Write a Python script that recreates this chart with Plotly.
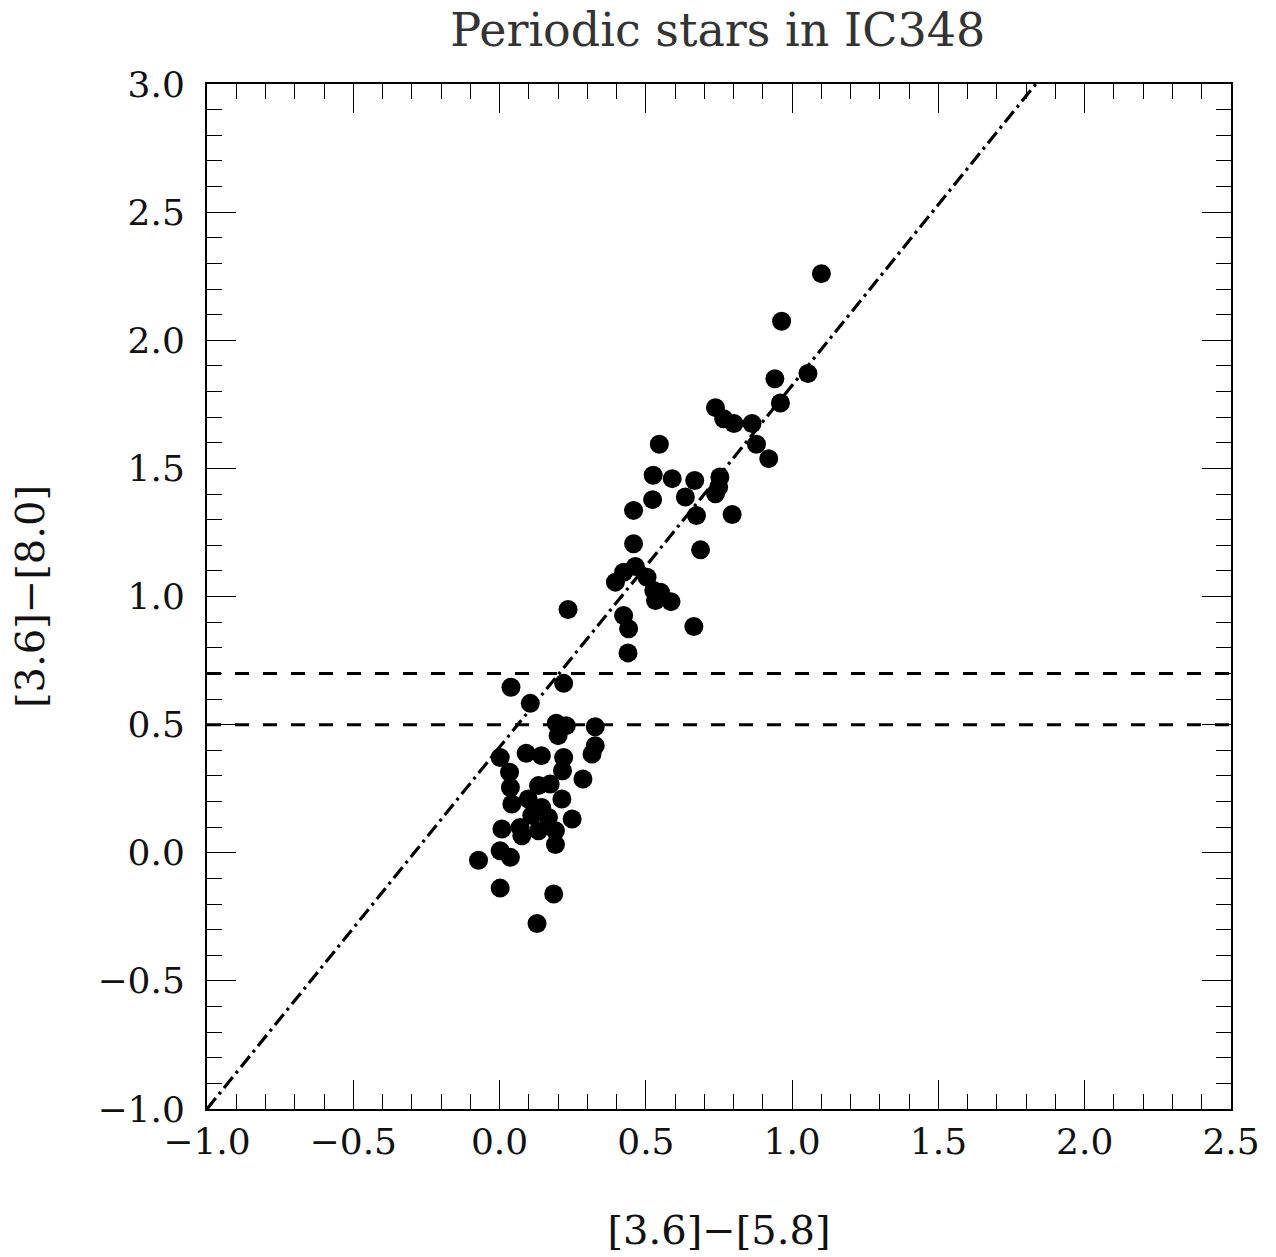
import plotly.graph_objects as go

# [3.6]-[5.8] and [3.6]-[8.0] colours of the periodic stars
color_36_58 = [
    1.100, 0.964, 1.054, 0.941, 0.960, 0.738, 0.766, 0.801, 0.863, 0.878,
    0.920, 0.546, 0.525, 0.590, 0.667, 0.753, 0.749, 0.738, 0.635, 0.523,
    0.458, 0.673, 0.795, 0.458, 0.687, 0.464, 0.424, 0.396, 0.504, 0.527,
    0.550, 0.533, 0.586, 0.424, 0.441, 0.664, 0.439, 0.234,
    0.039, 0.219, 0.105, 0.194, 0.228, 0.200, 0.327, 0.327, 0.316, 0.002,
    0.091, 0.143, 0.219, 0.215, 0.034, 0.285, 0.037, 0.133, 0.173, 0.213,
    0.042, 0.098, 0.144, 0.110, 0.167, 0.248, 0.008, 0.070, 0.076, 0.133,
    0.191, 0.191, 0.002, 0.037, -0.072, 0.002, 0.185, 0.128,
]
color_36_80 = [
    2.260, 2.074, 1.870, 1.850, 1.755, 1.737, 1.694, 1.675, 1.675, 1.594,
    1.538, 1.594, 1.473, 1.460, 1.453, 1.466, 1.427, 1.401, 1.388, 1.378,
    1.336, 1.316, 1.320, 1.206, 1.182, 1.117, 1.095, 1.056, 1.075, 1.023,
    1.017, 0.984, 0.980, 0.926, 0.874, 0.883, 0.780, 0.949,
    0.646, 0.661, 0.583, 0.505, 0.496, 0.457, 0.492, 0.418, 0.385, 0.372,
    0.388, 0.379, 0.372, 0.320, 0.314, 0.288, 0.255, 0.262, 0.268, 0.210,
    0.190, 0.210, 0.177, 0.145, 0.138, 0.132, 0.093, 0.099, 0.066, 0.086,
    0.086, 0.032, 0.008, -0.018, -0.029, -0.138, -0.161, -0.276,
]

# Reference relation [3.6]-[8.0] = slope * ([3.6]-[5.8]) + intercept
slope = 1.412
intercept = 0.412
relation_x = [-1.0, (3.0 - intercept) / slope]
relation_y = [slope * v + intercept for v in relation_x]

# Horizontal colour thresholds
thresholds = [0.5, 0.7]

x_range = [-1.0, 2.5]
y_range = [-1.0, 3.0]

FONT = "DejaVu Serif"

fig = go.Figure()

for t in thresholds:
    fig.add_trace(go.Scatter(
        x=x_range, y=[t, t], mode="lines",
        line=dict(color="black", width=3, dash="14px,14px"),
        hoverinfo="skip", showlegend=False,
    ))

fig.add_trace(go.Scatter(
    x=relation_x, y=relation_y, mode="lines",
    line=dict(color="black", width=3.2, dash="14px,5px,3px,5px"),
    hoverinfo="skip", showlegend=False,
))

fig.add_trace(go.Scatter(
    x=color_36_58, y=color_36_80, mode="markers",
    marker=dict(color="black", size=19, line=dict(width=0)),
    showlegend=False,
))

axis_common = dict(
    showgrid=False, zeroline=False,
    showline=True, linecolor="black", linewidth=2, mirror="ticks",
    ticks="inside", ticklen=29, tickwidth=1.3, tickcolor="black",
    dtick=0.5, tickformat=".1f",
    tickfont=dict(family=FONT, size=36, color="#111111"),
    minor=dict(ticks="inside", ticklen=15, tickwidth=1.3, tickcolor="black", dtick=0.1),
)

fig.update_xaxes(
    range=x_range, tick0=-1.0, ticklabelstandoff=0,
    title=dict(text="[3.6]−[5.8]", font=dict(family=FONT, size=40, color="#111111"), standoff=55),
    **axis_common,
)
fig.update_yaxes(
    range=y_range, tick0=-1.0, ticklabelstandoff=13,
    title=dict(text="[3.6]−[8.0]", font=dict(family=FONT, size=40, color="#111111"), standoff=40),
    **axis_common,
)

fig.update_layout(
    width=1276, height=1257,
    margin=dict(l=207, r=45, t=84, b=148),
    paper_bgcolor="white", plot_bgcolor="white",
    title=dict(
        text="Periodic stars in IC348",
        font=dict(family=FONT, size=46, color="#333333"),
        x=0.5625, xanchor="center", y=0.976, yanchor="middle",
    ),
)

fig.write_html("out.html")
